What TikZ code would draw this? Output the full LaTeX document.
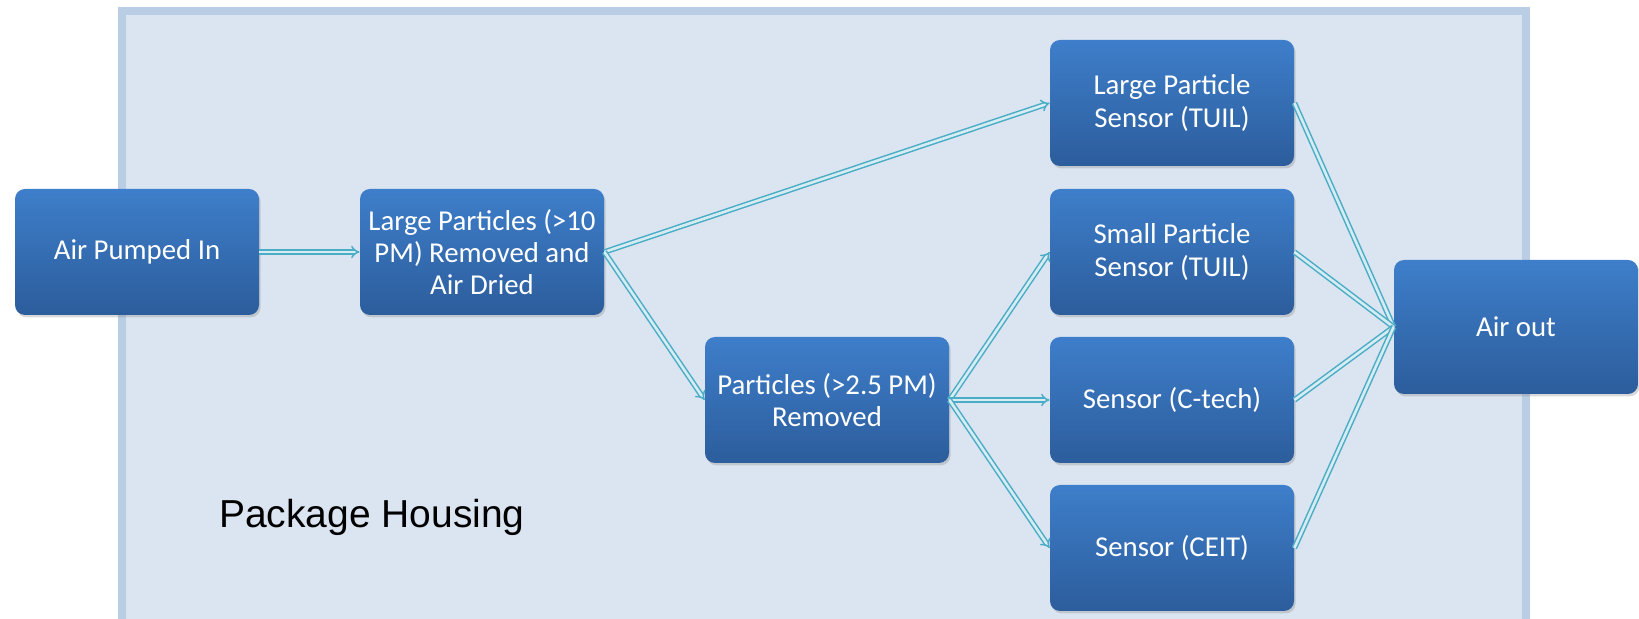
\documentclass[tikz,border=0pt]{standalone}
\usepackage{fontspec}
\setmainfont{Carlito}
\newfontfamily\housingfont{Liberation Sans}
\usepackage{xcolor}
\usepackage{tikz}
\usetikzlibrary{arrows.meta,shadows}
\definecolor{housingfill}{RGB}{219,229,241}
\definecolor{housingedge}{RGB}{185,205,229}
\definecolor{boxtop}{RGB}{62,126,202}
\definecolor{boxbottom}{RGB}{44,93,156}
\definecolor{pipecolor}{RGB}{75,172,198}
\definecolor{pipecore}{RGB}{214,236,243}
\tikzset{
  stagebox/.style={rectangle,rounded corners=5pt,minimum width=122pt,minimum height=63pt,
    inner sep=2pt,align=center,text=white,top color=boxtop,bottom color=boxbottom,
    font=\fontsize{14.4}{16.2}\selectfont,
    drop shadow={opacity=.3,shadow xshift=.8pt,shadow yshift=-1.2pt}},
  pipe/.style={draw=pipecolor,double=pipecore,double distance=1.3pt,line width=.75pt}
}

\begin{document}
\begin{tikzpicture}[
  x=0.5pt,
  y=-0.5pt,
  flowarrow/.style={
    pipe,
    -{Implies}
  },
  mergeline/.style={
    pipe
  }
]

  \useasboundingbox (0,0) rectangle (1639,619);

  % --------------------------------------------------------------
  % The housing, open at the bottom edge of the picture.
  % --------------------------------------------------------------
  \fill[housingfill] (122,11) rectangle (1526,640);
  \draw[housingedge,line width=4pt] (122,640) -- (122,11) -- (1526,11) -- (1526,640);

  \node[font=\housingfont\fontsize{19.5}{23}\selectfont,anchor=west] (housing)
    at (212,517) {Package Housing};


  % --------------------------------------------------------------
  % Stages of the air path.
  % --------------------------------------------------------------
  \node[stagebox] (inlet)  at (137,252) {Air Pumped In};
  \node[stagebox] (dryer)  at (482,252) {Large Particles (>10\\PM) Removed and\\Air Dried};
  \node[stagebox] (fine)   at (827,400) {Particles (>2.5 PM)\\Removed};


  % --------------------------------------------------------------
  % Sensors and the outlet.
  % --------------------------------------------------------------
  \node[stagebox] (sLarge) at (1172,103) {Large Particle\\Sensor (TUIL)};
  \node[stagebox] (sSmall) at (1172,252) {Small Particle\\Sensor (TUIL)};
  \node[stagebox] (sCtech) at (1172,400) {Sensor (C-tech)};
  \node[stagebox] (sCeit)  at (1172,548) {Sensor (CEIT)};

  \node[stagebox,minimum height=67pt] (outlet) at (1516,327) {Air out};


  % --------------------------------------------------------------
  % Connectors.
  % --------------------------------------------------------------
  \draw[flowarrow] (inlet.east) -- (dryer.west);

  \draw[flowarrow] (dryer.east) -- (sLarge.west);
  \draw[flowarrow] (dryer.east) -- (fine.west);

  \draw[flowarrow] (fine.east) -- (sSmall.west);
  \draw[flowarrow] (fine.east) -- (sCtech.west);
  \draw[flowarrow] (fine.east) -- (sCeit.west);

\foreach \s in {sLarge,sSmall,sCtech,sCeit}
  {\draw[mergeline] (\s.east) -- (outlet.west);}

\end{tikzpicture}
\end{document}
